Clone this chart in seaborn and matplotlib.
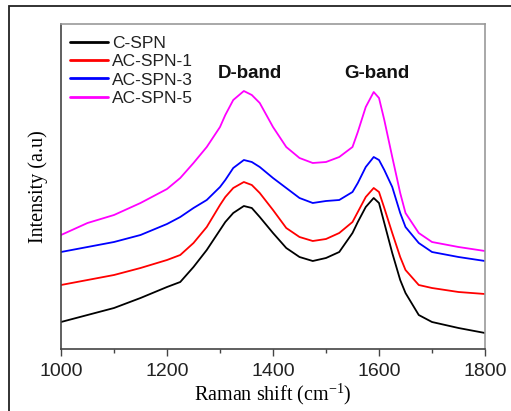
import numpy as np
import pandas as pd
import seaborn as sns
import matplotlib.pyplot as plt
from matplotlib.patches import Rectangle
from matplotlib.ticker import MultipleLocator

# Raman shift (cm-1) sampling points
shift = [1000, 1050, 1100, 1150, 1200, 1225, 1250, 1275, 1300, 1310, 1325,
         1345, 1360, 1375, 1400, 1425, 1450, 1475, 1500, 1525, 1550, 1560,
         1575, 1590, 1600, 1610, 1625, 1640, 1650, 1675, 1700, 1750, 1800]

# intensities (arbitrary units, offset spectra)
c_spn = [27, 34, 41, 51, 62, 67, 82, 99, 119, 127, 136,
         143, 141, 132, 116, 101, 92, 88, 91, 97, 116, 127,
         142, 151, 146, 126, 96, 69, 56, 34, 27, 21, 16]
ac_spn_1 = [64, 69, 74, 81, 89, 94, 106, 122, 144, 152, 161,
            167, 164, 156, 139, 121, 112, 108, 110, 116, 127, 137,
            152, 161, 157, 141, 116, 92, 79, 64, 61, 57, 55]
ac_spn_3 = [97, 102, 107, 114, 125, 132, 141, 149, 162, 169, 181,
            189, 187, 182, 171, 161, 151, 146, 148, 149, 157, 166,
            182, 192, 189, 179, 162, 136, 122, 106, 97, 92, 88]
ac_spn_5 = [114, 126, 134, 146, 160, 171, 186, 202, 222, 234, 249,
            258, 254, 246, 222, 202, 191, 186, 187, 192, 202, 217,
            242, 257, 251, 229, 192, 156, 136, 116, 107, 102, 98]

series = ["C-SPN", "AC-SPN-1", "AC-SPN-3", "AC-SPN-5"]
colores = ["#000000", "#ff0000", "#0000ff", "#ff00ff"]

df = pd.DataFrame({
    "shift": shift * 4,
    "intensity": c_spn + ac_spn_1 + ac_spn_3 + ac_spn_5,
    "sample": sum([[s] * len(shift) for s in series], []),
})

sns.set_theme(style="white")
plt.rcParams["font.family"] = ["Liberation Sans", "DejaVu Sans"]
plt.rcParams["mathtext.fontset"] = "custom"
plt.rcParams["mathtext.rm"] = "Liberation Serif"

fig = plt.figure(figsize=(5.11, 4.11), dpi=100)
ax = fig.add_axes([61 / 511, 1 - 349 / 411, 424 / 511, 325 / 411])

sns.lineplot(data=df, x="shift", y="intensity", hue="sample",
             palette=colores, hue_order=series, linewidth=1.3, ax=ax)

ax.set_xlim(1000, 1800)
ax.set_ylim(0, 325)
ax.set_yticks([])
ax.xaxis.set_major_locator(MultipleLocator(200))
ax.xaxis.set_minor_locator(MultipleLocator(100))
ax.tick_params(axis="x", which="major", direction="out", length=5, width=1,
               color="#444444", bottom=True, labelsize=14, labelcolor="#222222",
               pad=5)
ax.tick_params(axis="x", which="minor", direction="out", length=3, width=1,
               color="#444444", bottom=True)

for lado in ["left", "bottom"]:
    ax.spines[lado].set_color("#444444")
    ax.spines[lado].set_linewidth(1.2)
for lado in ["top", "right"]:
    ax.spines[lado].set_color("#999999")
    ax.spines[lado].set_linewidth(1.2)

ax.set_xlabel(r"Raman shift (cm$\mathregular{^{-1}}$)", family="Liberation Serif",
              fontsize=14.5, color="black", labelpad=1)
ax.set_ylabel("Intensity (a.u)", family="Liberation Serif", fontsize=14.5,
              color="black", labelpad=9)

ax.text(1357, 276, "D-band", ha="center", va="center", fontsize=13.5,
        fontweight="bold", color="#111111")
ax.text(1596, 276, "G-band", ha="center", va="center", fontsize=13.5,
        fontweight="bold", color="#111111")

leg = ax.legend(loc="upper left", frameon=False, fontsize=12.5,
                handlelength=2.2, handletextpad=0.25, labelspacing=0.18,
                borderaxespad=0.0, bbox_to_anchor=(0.004, 0.985))
for t in leg.get_texts():
    t.set_color("#222222")
for h in leg.get_lines():
    h.set_linewidth(2)

# marco exterior de la figura
fig.add_artist(Rectangle((9 / 511, -0.1), 1.2, 1.1 - 6 / 411,
                         transform=fig.transFigure, fill=False,
                         edgecolor="#222222", linewidth=1.3))

fig.savefig("out.png", dpi=100)
